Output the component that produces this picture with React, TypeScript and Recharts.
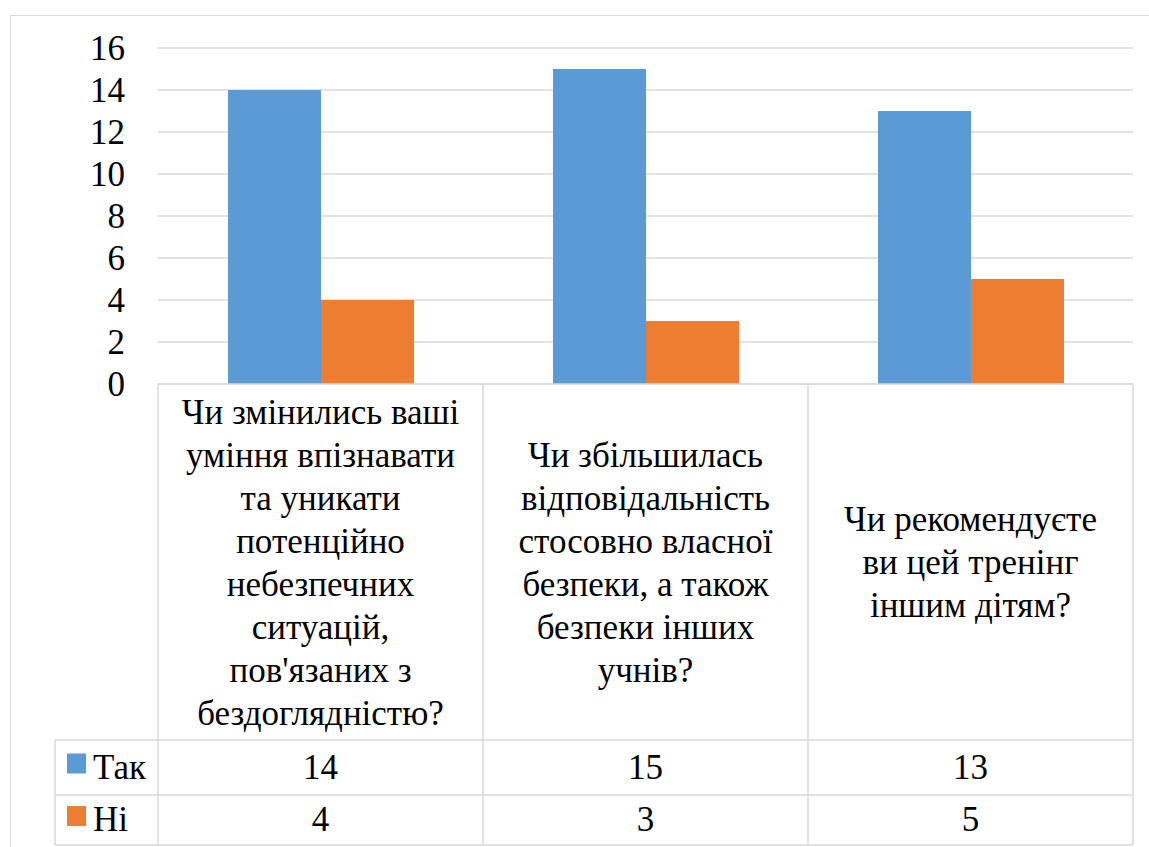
import React from "react";
import { BarChart, Bar, XAxis, YAxis, CartesianGrid } from "recharts";

const categories = [
    "Чи змінились ваші уміння впізнавати та уникати потенційно небезпечних ситуацій, пов'язаних з бездоглядністю?",
    "Чи збільшилась відповідальність стосовно власної безпеки, а також безпеки інших учнів?",
    "Чи рекомендуєте ви цей тренінг іншим дітям?",
];
// how each category label wraps in its table cell
const categoryLines = [
    ["Чи змінились ваші", "уміння впізнавати", "та уникати", "потенційно", "небезпечних", "ситуацій,", "пов'язаних з", "бездоглядністю?"],
    ["Чи збільшилась", "відповідальність", "стосовно власної", "безпеки, а також", "безпеки інших", "учнів?"],
    ["Чи рекомендуєте", "ви цей тренінг", "іншим дітям?"],
];
const seriesNames = ["Так", "Ні"];
const takValues = [14, 15, 13];
const niValues = [4, 3, 5];
const yTicks = [0, 2, 4, 6, 8, 10, 12, 14, 16];
const colors = ["#5B9BD5", "#ED7D31"];

const data = categories.map((name, i) => ({ name, tak: takValues[i], ni: niValues[i] }));
const seriesValues = [takValues, niValues];

const FONT = "Liberation Serif, DejaVu Serif";
const GRID = "#d9d9d9";
const W = 1149;
const H = 847;
const PLOT_LEFT = 158;
const PLOT_RIGHT = 1133;
const PLOT_TOP = 48;
const PLOT_BOTTOM = 384;
const ROW1 = 740;
const ROW2 = 795;
const ROW3 = 845;
const LEGEND_LEFT = 55;
const LINE_H = 43;

const textStyle = { fontFamily: FONT, fontSize: 35 };

const CategoryTick = (props: any) => {
    const { x, index } = props;
    const bw = (PLOT_RIGHT - PLOT_LEFT) / categories.length;
    const left = x - bw / 2;
    const right = x + bw / 2;
    const lines = categoryLines[index] || [];
    const mid = (PLOT_BOTTOM + ROW1) / 2;
    const first = mid - ((lines.length - 1) / 2) * LINE_H + 12;
    const rowBase = [(ROW1 + ROW2) / 2 + 11, (ROW2 + ROW3) / 2 + 11];
    const x0 = index === 0 ? LEGEND_LEFT : left;
    return (
        <g>
            <line x1={left} x2={right} y1={PLOT_BOTTOM} y2={PLOT_BOTTOM} stroke={GRID} strokeWidth={1.5} />
            <line x1={x0} x2={right} y1={ROW1} y2={ROW1} stroke={GRID} strokeWidth={1.5} />
            <line x1={x0} x2={right} y1={ROW2} y2={ROW2} stroke={GRID} strokeWidth={1.5} />
            <line x1={x0} x2={right} y1={ROW3} y2={ROW3} stroke={GRID} strokeWidth={1.5} />
            <line x1={right} x2={right} y1={PLOT_BOTTOM} y2={ROW3} stroke={GRID} strokeWidth={1.5} />
            {index === 0 && (
                <>
                    <line x1={left} x2={left} y1={PLOT_BOTTOM} y2={ROW3} stroke={GRID} strokeWidth={1.5} />
                    <line x1={LEGEND_LEFT} x2={LEGEND_LEFT} y1={ROW1} y2={ROW3} stroke={GRID} strokeWidth={1.5} />
                    {seriesNames.map((s, k) => (
                        <g key={s}>
                            <rect x={67} y={rowBase[k] - 25} width={19} height={20} fill={colors[k]} />
                            <text x={93} y={rowBase[k]} style={textStyle} fill="#000">{s}</text>
                        </g>
                    ))}
                </>
            )}
            <text textAnchor="middle" style={textStyle} fill="#000">
                {lines.map((l, i) => (
                    <tspan key={i} x={x} y={first + i * LINE_H}>{l}</tspan>
                ))}
            </text>
            {seriesValues.map((vals, k) => (
                <text key={k} x={x} y={rowBase[k]} textAnchor="middle" style={textStyle} fill="#000">
                    {vals[index]}
                </text>
            ))}
        </g>
    );
};

export default function App() {
    return (
        <div style={{ position: "absolute", left: 0, top: 0, width: W, height: H, background: "#fff", overflow: "hidden", fontFamily: FONT }}>
            <div style={{ position: "absolute", left: 10, top: 15, width: W, height: H, border: "1.5px solid " + GRID }} />
            <BarChart
                width={W}
                height={H}
                data={data}
                barCategoryGap={70}
                barGap={0}
                margin={{ top: PLOT_TOP, right: W - PLOT_RIGHT, bottom: 0, left: 58 }}
                style={{ position: "absolute", left: 0, top: 0, fontFamily: FONT }}
            >
                <CartesianGrid vertical={false} stroke={GRID} strokeWidth={1.5} />
                <XAxis
                    dataKey="name"
                    interval={0}
                    height={H - PLOT_BOTTOM}
                    axisLine={false}
                    tickLine={false}
                    tickSize={0}
                    tickMargin={0}
                    tick={(p: any) => <CategoryTick {...p} />}
                />
                <YAxis
                    width={PLOT_LEFT - 58}
                    domain={[0, 16]}
                    ticks={yTicks}
                    interval={0}
                    axisLine={false}
                    tickLine={false}
                    tickSize={0}
                    tickMargin={33}
                    tick={{ fontSize: 35, fill: "#000", style: { fontFamily: FONT } }}
                />
                <Bar dataKey="tak" name={seriesNames[0]} fill={colors[0]} isAnimationActive={false} />
                <Bar dataKey="ni" name={seriesNames[1]} fill={colors[1]} isAnimationActive={false} />
            </BarChart>
        </div>
    );
}
